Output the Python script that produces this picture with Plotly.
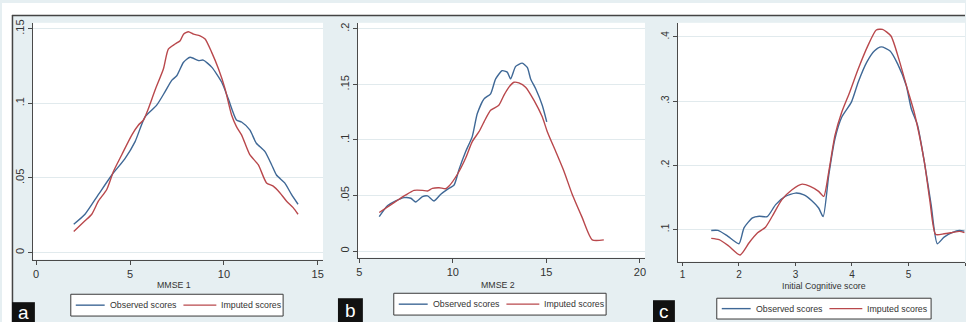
import plotly.graph_objects as go

# ---------------- data ----------------
a_obs_x = [2.0, 2.6, 3.32, 4.03, 4.73, 5.27, 5.8, 6.42, 6.86, 7.22, 7.5, 7.85, 8.2, 8.64, 8.9,
           9.35, 9.88, 10.23, 10.67, 10.94, 11.38, 11.73, 12.18, 12.54, 12.8, 13.24, 13.6, 13.95]
a_obs_y = [0.019, 0.0257, 0.039, 0.052, 0.063, 0.0744, 0.091, 0.0988, 0.1077, 0.1154, 0.1187, 0.1276,
           0.1309, 0.1287, 0.129, 0.1243, 0.1143, 0.1032, 0.0889, 0.0875, 0.0822, 0.0733, 0.0678,
           0.0589, 0.052, 0.0467, 0.039, 0.0324]
a_imp_x = [2.0, 2.6, 2.96, 3.32, 3.76, 4.12, 4.56, 5.1, 5.45, 5.72, 5.98, 6.33, 6.78, 7.04, 7.4,
           7.67, 7.85, 8.11, 8.38, 8.73, 9.0, 9.35, 9.71, 10.06, 10.41, 10.67, 10.94, 11.38, 11.83,
           12.27, 12.63, 12.98, 13.33, 13.69, 13.95]
a_imp_y = [0.0142, 0.0213, 0.0257, 0.0346, 0.0423, 0.0545, 0.0656, 0.0789, 0.0855, 0.0889, 0.0966,
           0.1088, 0.1232, 0.1364, 0.1398, 0.142, 0.1464, 0.148, 0.1464, 0.1453, 0.1431, 0.1342,
           0.1232, 0.1099, 0.0922, 0.0844, 0.0789, 0.0656, 0.0589, 0.0467, 0.0445, 0.0401, 0.0346,
           0.0301, 0.0257]

b_obs_x = [6.07, 6.51, 6.95, 7.4, 7.76, 8.02, 8.38, 8.65, 9.0, 9.36, 9.71, 10.07, 10.33, 10.69,
           11.04, 11.31, 11.67, 12.02, 12.29, 12.64, 12.91, 13.09, 13.36, 13.71, 13.98, 14.16,
           14.43, 14.78, 15.02]
b_obs_y = [0.0309, 0.0407, 0.0451, 0.0481, 0.0475, 0.0442, 0.049, 0.0496, 0.0451, 0.0511, 0.0555,
           0.0594, 0.0733, 0.0896, 0.103, 0.1237, 0.137, 0.1415, 0.1549, 0.1623, 0.161, 0.1549,
           0.1662, 0.1691, 0.1652, 0.1549, 0.146, 0.1312, 0.1163]
b_imp_x = [6.07, 6.6, 7.13, 7.49, 7.93, 8.38, 8.65, 8.91, 9.27, 9.62, 9.8, 10.24, 10.69, 11.04,
           11.4, 11.67, 12.02, 12.46, 12.73, 13.0, 13.27, 13.53, 13.89, 14.34, 14.78, 15.05, 15.5,
           15.94, 16.38, 16.91, 17.45, 18.07]
b_imp_y = [0.0347, 0.0407, 0.0466, 0.0505, 0.0546, 0.0546, 0.054, 0.0564, 0.057, 0.0561, 0.0585,
           0.0689, 0.0837, 0.0985, 0.1074, 0.1163, 0.1267, 0.1312, 0.1401, 0.1475, 0.1519, 0.1513,
           0.1475, 0.1356, 0.1208, 0.1074, 0.0896, 0.0718, 0.0511, 0.0303, 0.0101, 0.0101]

c_obs_x = [1.51, 1.63, 1.8, 2.0, 2.09, 2.24, 2.36, 2.5, 2.65, 2.82, 3.0, 3.15, 3.29, 3.41, 3.49,
           3.59, 3.7, 3.82, 3.99, 4.11, 4.26, 4.4, 4.52, 4.67, 4.81, 4.96, 5.05, 5.16, 5.28, 5.4,
           5.51, 5.63, 5.78, 5.9, 5.99]
c_obs_y = [0.0985, 0.0985, 0.0897, 0.0778, 0.1025, 0.118, 0.1206, 0.12, 0.1387, 0.1515, 0.1567,
           0.154, 0.1449, 0.1335, 0.12, 0.1851, 0.2417, 0.2752, 0.2984, 0.3294, 0.3603, 0.3784,
           0.3845, 0.3784, 0.3577, 0.3243, 0.2881, 0.2624, 0.2057, 0.1387, 0.0778, 0.0881, 0.0954,
           0.0985, 0.0975]
c_imp_x = [1.51, 1.65, 1.82, 2.02, 2.18, 2.33, 2.47, 2.59, 2.76, 2.94, 3.12, 3.26, 3.41, 3.5,
           3.59, 3.7, 3.82, 3.96, 4.11, 4.28, 4.43, 4.54, 4.69, 4.83, 4.98, 5.1, 5.28, 5.38, 5.48,
           5.63, 5.78, 5.9, 5.99]
c_imp_y = [0.0861, 0.0841, 0.0742, 0.0603, 0.0794, 0.0948, 0.1036, 0.1206, 0.1464, 0.1619, 0.1706,
           0.167, 0.1593, 0.1515, 0.1903, 0.2469, 0.283, 0.3139, 0.35, 0.3861, 0.4108, 0.4118,
           0.4015, 0.3654, 0.319, 0.283, 0.2057, 0.1438, 0.0923, 0.0933, 0.0954, 0.097, 0.095]

series_names = ["Observed scores", "Imputed scores"]
x_titles = ["MMSE 1", "MMSE 2", "Initial Cognitive score"]
panel_letters = ["a", "b", "c"]

a_xticks = [0, 5, 10, 15]
b_xticks = [5, 10, 15, 20]
c_xticks = [1, 2, 3, 4, 5, 6]
a_yticks = [0, 0.05, 0.1, 0.15]
a_yticklabels = ["0", ".05", ".1", ".15"]
b_yticks = [0, 0.05, 0.1, 0.15, 0.2]
b_yticklabels = ["0", ".05", ".1", ".15", ".2"]
c_yticks = [0.1, 0.2, 0.3, 0.4]
c_yticklabels = [".1", ".2", ".3", ".4"]

# ---------------- styling / layout ----------------
W, H = 966, 322
FONT = "Liberation Sans Narrow, Arial Narrow, Liberation Sans, Arial, sans-serif"
BLUE = "#3f6896"
RED = "#b9484c"
COLORS = [BLUE, RED]
BG = "#e6eff2"
GRID = "#e1eaed"
AXC = "#4a4a4a"
TXT = "#333333"


def fx(p):
    return p / W


def fy(p):
    return (H - p) / H


fig = go.Figure()

panels = [
    ("x", "y", a_obs_x, a_obs_y, a_imp_x, a_imp_y),
    ("x2", "y2", b_obs_x, b_obs_y, b_imp_x, b_imp_y),
    ("x3", "y3", c_obs_x, c_obs_y, c_imp_x, c_imp_y),
]
for xa, ya, ox, oy, ix, iy in panels:
    fig.add_trace(go.Scatter(x=ox, y=oy, mode="lines", name=series_names[0], xaxis=xa, yaxis=ya,
                             showlegend=False,
                             line=dict(color=BLUE, width=1.4, shape="spline", smoothing=0.6)))
    fig.add_trace(go.Scatter(x=ix, y=iy, mode="lines", name=series_names[1], xaxis=xa, yaxis=ya,
                             showlegend=False,
                             line=dict(color=RED, width=1.4, shape="spline", smoothing=0.6)))

# plot regions (px): (left, right, top, bottom)
regions = [(31, 322, 20, 259), (357, 645, 20, 257), (678, 966, 20, 261)]
xranges = [[-0.175, 15.28], [4.93, 20.27], [0.92, 6.0]]
yranges = [[-0.0047, 0.154], [-0.0059, 0.2054], [0.05, 0.422]]
xticks = [a_xticks, b_xticks, c_xticks]
yticks = [(a_yticks, a_yticklabels), (b_yticks, b_yticklabels), (c_yticks, c_yticklabels)]
tick_sizes = [11, 11, 10]

layout = dict(
    width=W, height=H, margin=dict(l=0, r=0, t=0, b=0),
    paper_bgcolor=BG, plot_bgcolor="white", showlegend=False,
    font=dict(family=FONT, size=11, color=TXT),
)
for i, (l, r, t, b) in enumerate(regions):
    sx = "" if i == 0 else str(i + 1)
    layout["xaxis" + sx] = dict(
        domain=[fx(l), fx(r)], range=xranges[i], anchor="y" + sx,
        tickvals=xticks[i], ticks="outside", ticklen=4 if i < 2 else 3, tickcolor=AXC,
        showline=True, linecolor=AXC, linewidth=1, showgrid=False, zeroline=False,
        tickfont=dict(size=tick_sizes[i], color=TXT),
    )
    layout["yaxis" + sx] = dict(
        domain=[fy(b), fy(t)], range=yranges[i], anchor="x" + sx,
        tickvals=yticks[i][0], ticktext=yticks[i][1], tickangle=-90,
        ticks="outside", ticklen=4, tickcolor=AXC,
        showline=True, linecolor=AXC, linewidth=1,
        showgrid=True, gridcolor=GRID, gridwidth=1, zeroline=False,
        tickfont=dict(size=tick_sizes[i], color=TXT),
    )
fig.update_layout(**layout)

shapes = [
    # white outer strips (top and left) outside the graph region
    dict(type="rect", xref="paper", yref="paper", x0=0, x1=1, y0=fy(12), y1=1,
         fillcolor="white", line=dict(width=0)),
    dict(type="rect", xref="paper", yref="paper", x0=0, x1=fx(10), y0=0, y1=1,
         fillcolor="white", line=dict(width=0)),
    # graph-region border
    dict(type="line", xref="paper", yref="paper", x0=fx(10), x1=1, y0=fy(12.5), y1=fy(12.5),
         line=dict(color="#444444", width=1.5)),
    dict(type="line", xref="paper", yref="paper", x0=fx(10.5), x1=fx(10.5), y0=0, y1=fy(12),
         line=dict(color="#444444", width=1.5)),
]
annotations = []

# legend boxes (px): left, top, right, bottom
legend_boxes = [(69, 294, 282, 316), (393, 293, 606, 315), (717, 298, 932, 319)]
key_offsets = [(5, 34, 37), (113, 146, 149)]  # line start, line end, text start (relative to box left)
for (l, t, r, b) in legend_boxes:
    shapes.append(dict(type="rect", xref="paper", yref="paper", x0=fx(l), x1=fx(r),
                       y0=fy(b), y1=fy(t), fillcolor="white",
                       line=dict(color="#3a3a3a", width=1)))
    cy = (t + b) / 2
    for (ls, le, ts), col, name in zip(key_offsets, COLORS, series_names):
        shapes.append(dict(type="line", xref="paper", yref="paper", x0=fx(l + ls), x1=fx(l + le),
                           y0=fy(cy), y1=fy(cy), line=dict(color=col, width=1.4)))
        annotations.append(dict(text=name, xref="paper", yref="paper", x=fx(l + ts), y=fy(cy),
                                xanchor="left", yanchor="middle", showarrow=False,
                                font=dict(family=FONT, size=8.8, color=TXT)))

letter_boxes = [(10, 33, 302), (337, 362, 298), (653, 675, 300)]
for (x0, x1, y0), letter in zip(letter_boxes, panel_letters):
    shapes.append(dict(type="rect", xref="paper", yref="paper", x0=fx(x0), x1=fx(x1),
                       y0=0, y1=fy(y0), fillcolor="#111111", line=dict(width=0)))
    annotations.append(dict(text=letter, xref="paper", yref="paper", x=fx((x0 + x1) / 2),
                            y=fy((y0 + 322) / 2 + 0.5), xanchor="center", yanchor="middle",
                            showarrow=False,
                            font=dict(family="Liberation Sans, Arial, sans-serif", size=19,
                                      color="white")))

title_pos = [(173, 285), (498, 285), (825, 286)]
for (cx, cy), t in zip(title_pos, x_titles):
    annotations.append(dict(text=t, xref="paper", yref="paper", x=fx(cx), y=fy(cy),
                            xanchor="center", yanchor="middle", showarrow=False,
                            font=dict(family=FONT, size=8.8, color=TXT)))

fig.update_layout(shapes=shapes, annotations=annotations)

fig.write_html("out.html", config={"displayModeBar": False},
               post_script="document.body.style.margin='0';document.body.style.padding='0';")
